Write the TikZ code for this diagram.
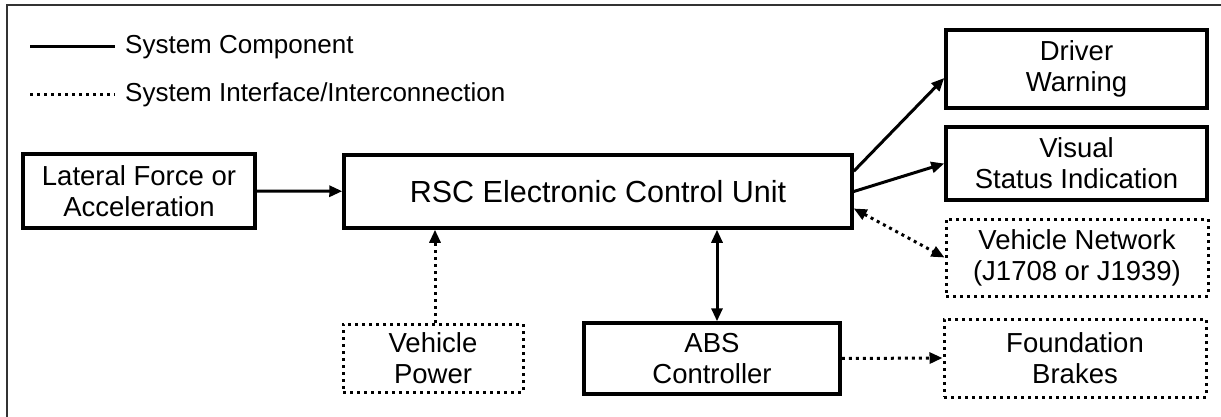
\documentclass[tikz,border=0pt]{standalone}
\usepackage{fontspec}
\setmainfont{Liberation Sans}
\usetikzlibrary{arrows.meta}
\begin{document}
\begin{tikzpicture}[x=1pt,y=-1pt,
  txt/.style={font=\fontsize{26}{30}\selectfont},
  btxt/.style={font=\fontsize{27.5}{31}\selectfont},
  comp/.style={draw, line width=3.5pt, rectangle, inner sep=0pt, align=center, btxt},
  iface/.style={draw, line width=3pt, dash pattern=on 3pt off 4pt, rectangle, inner sep=0pt, align=center, btxt},
  conn/.style={line width=3pt, -{Triangle[length=13pt,width=11pt]}},
  bconn/.style={line width=3pt, {Triangle[length=13pt,width=11pt]}-{Triangle[length=13pt,width=11pt]}},
  dconn/.style={line width=3pt, dash pattern=on 3pt off 4pt},
  tip/.style={-{Triangle[length=13pt,width=11pt]}},
  btip/.style={{Triangle[length=13pt,width=11pt]}-{Triangle[length=13pt,width=11pt]}}
]
\useasboundingbox (0,0) rectangle (1221,417);
% outer frame (left and top edges visible)
\coordinate (f1) at (7,417);
\coordinate (f2) at (7,5);
\coordinate (f3) at (1221,5);
\draw[line width=2.5pt, black!80] (f1) -- (f2) -- (f3);

% legend
\coordinate (ls1) at (30,47);
\coordinate (ls2) at (115,47);
\coordinate (ld1) at (30,95);
\coordinate (ld2) at (115,95);
\draw[line width=3pt] (ls1) -- (ls2);
\draw[dconn] (ld1) -- (ld2);
\node[txt, anchor=west, inner sep=0pt] (lt1) at (125,47) {System Component};
\node[txt, anchor=west, inner sep=0pt] (lt2) at (125,95) {System Interface/Interconnection};

% boxes
\node[comp, minimum width=232pt, minimum height=74pt] (lat) at (139,191) {Lateral Force or\\Acceleration};
\node[comp, minimum width=508pt, minimum height=73pt, font=\fontsize{30.5}{34}\selectfont] (rsc) at (598,191.5) {RSC Electronic Control Unit};
\node[comp, minimum width=261pt, minimum height=78pt] (drv) at (1076.5,69) {Driver\\Warning};
\node[comp, minimum width=261pt, minimum height=73pt] (vis) at (1076.5,163.5) {Visual\\Status Indication};
\node[iface, minimum width=262pt, minimum height=77pt] (net) at (1077,257.5) {Vehicle Network\\(J1708 or J1939)};
\node[iface, minimum width=262pt, minimum height=78pt] (fnd) at (1075,358) {Foundation\\Brakes};
\node[iface, minimum width=180pt, minimum height=68pt] (pwr) at (433,358) {Vehicle\\Power};
\node[comp, minimum width=256pt, minimum height=71pt] (abs) at (712,358.5) {ABS\\Controller};

% connectors
\draw[conn] (lat) -- (rsc);
\draw[dconn, tip] ([xshift=2pt]pwr.north) -- ([xshift=2pt]pwr.north |- rsc.south);
\draw[bconn] ([xshift=5pt]abs.north) -- ([xshift=5pt]abs.north |- rsc.south);
\draw[conn] ([yshift=-18pt]rsc.north east) -- ([yshift=-9pt]drv.west);
\draw[conn] (rsc.east) -- (vis.west);
\draw[dconn, btip] ([yshift=-17pt]rsc.east) -- (net.west);
\draw[dconn, tip] (abs.east) -- (fnd.west);
\end{tikzpicture}
\end{document}
